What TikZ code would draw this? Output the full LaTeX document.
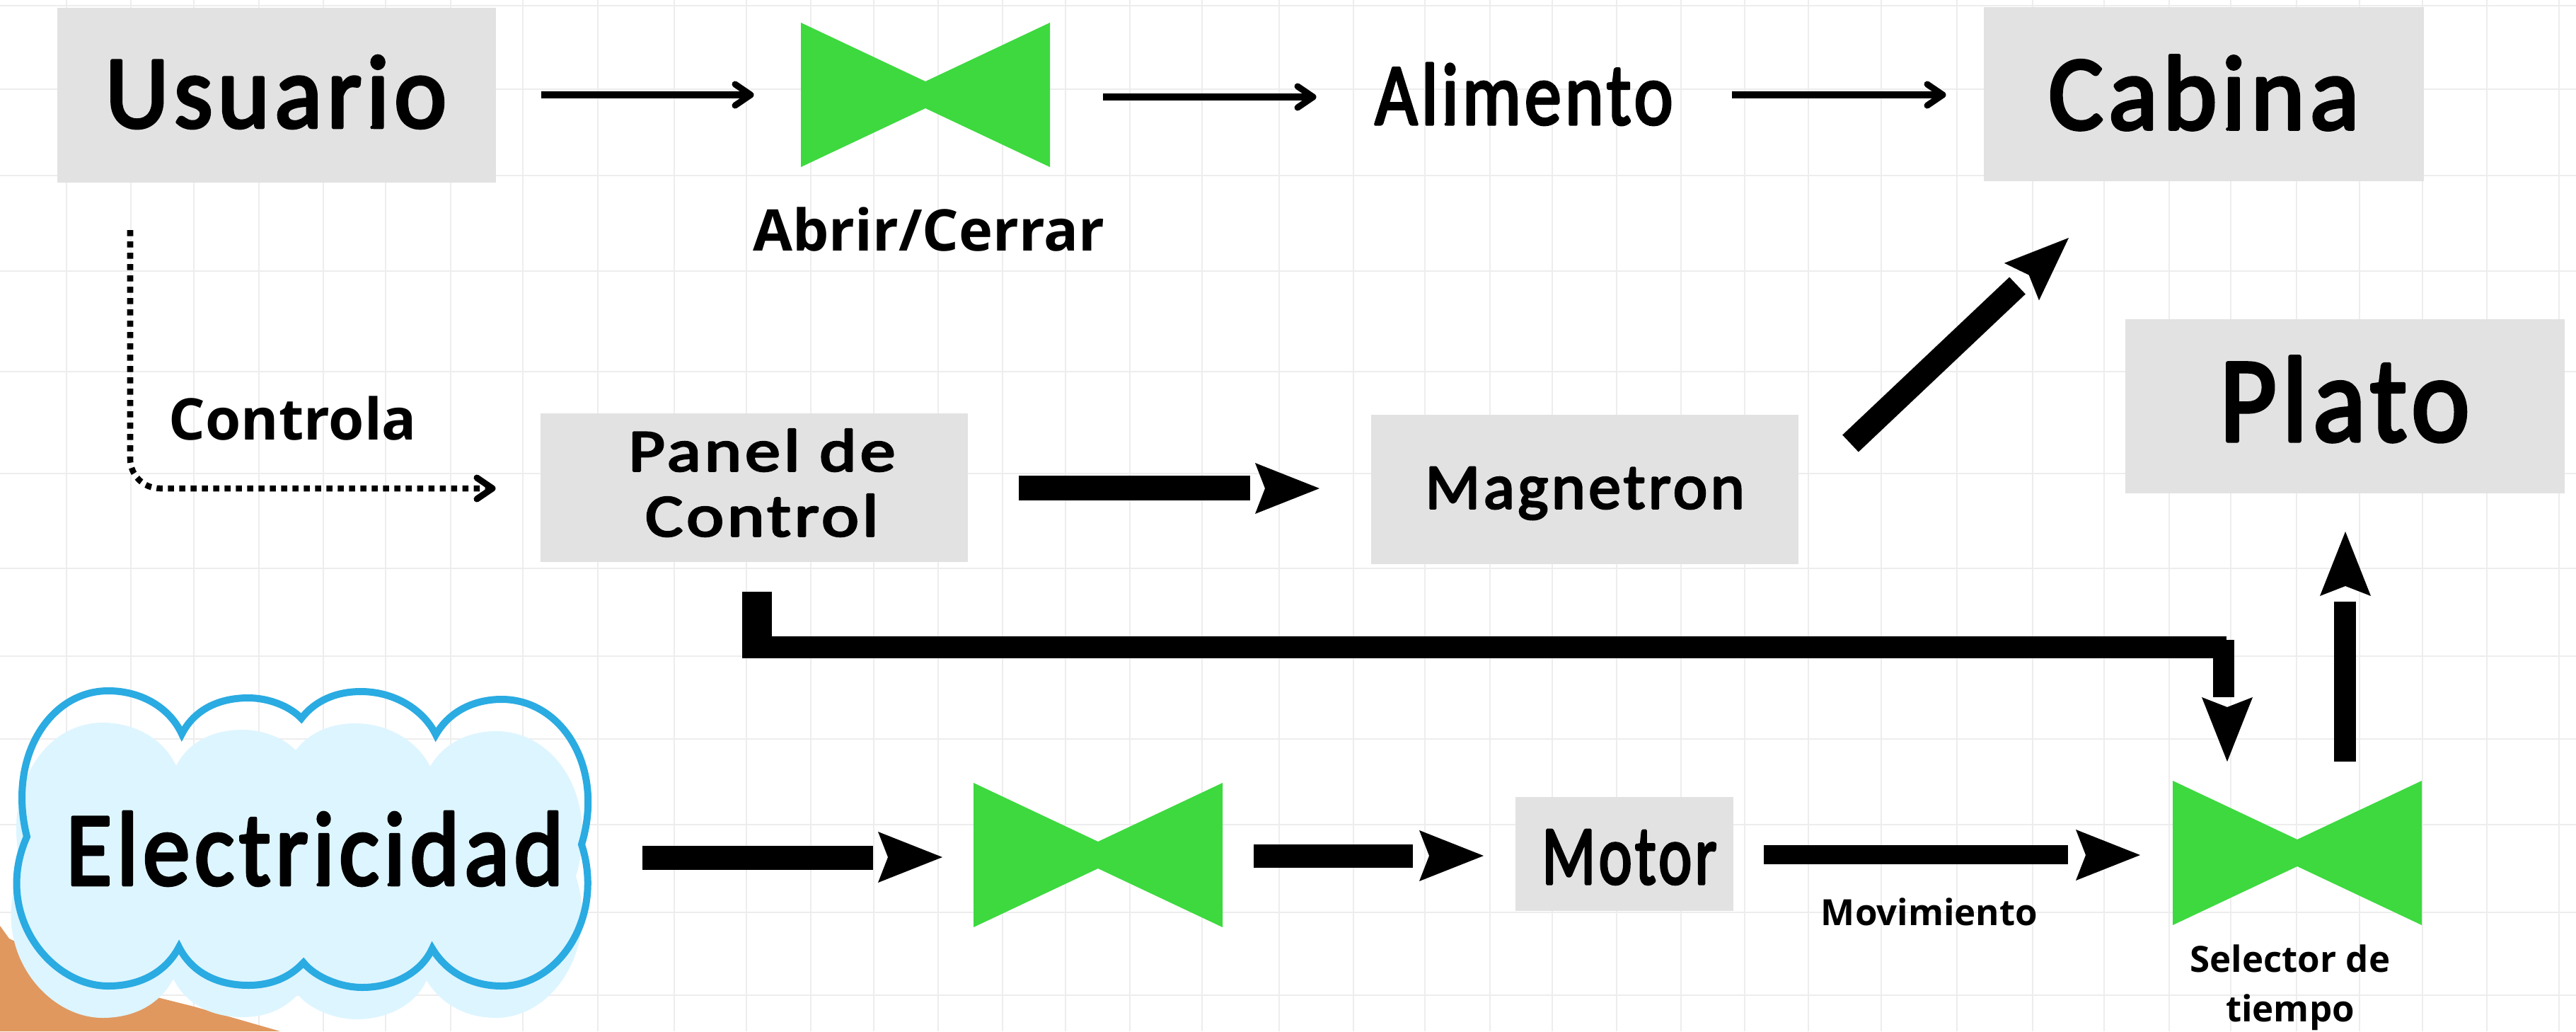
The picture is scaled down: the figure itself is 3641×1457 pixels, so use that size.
\documentclass[tikz,border=0pt]{standalone}
\usepackage{fontspec}
\usepackage{graphicx}
\setmainfont{Open Sans}
\newfontfamily\handfont{Carlito}[FakeBold=3.2,LetterSpace=5]
\definecolor{gridc}{HTML}{EDEDED}
\definecolor{boxc}{HTML}{E2E2E2}
\definecolor{bowc}{HTML}{3DD93F}
\definecolor{cloudl}{HTML}{DDF5FF}
\definecolor{cloudb}{HTML}{2AABE2}
\definecolor{orangec}{HTML}{E0985F}
\newcommand{\hand}[3]{\resizebox*{#1}{#2}{\special{pdf:code 1 j 1 J}\handfont #3}}
\tikzset{
  greybox/.style={rectangle,fill=boxc,draw=none,inner sep=0pt,anchor=north west},
  gridline/.style={draw=gridc,line width=.02cm},
  handtext/.style={inner sep=0pt,text=black},
  boldbig/.style={inner sep=0pt,anchor=base,font=\bfseries\fontsize{23.1}{26}\selectfont},
  boldsmall/.style={inner sep=0pt,anchor=base,font=\bfseries\fontsize{14.5}{18}\selectfont},
  thinline/.style={draw=black,line width=.1cm},
  headshape/.pic={\fill[black] (0,0) -- (-91,36) -- (-77,0) -- (-91,-36) -- cycle;},
  chevron/.pic={\draw[black,line width=.09cm,line cap=round,line join=round] (-26,15) -- (-4,0) -- (-26,-15);},
  bowtie/.pic={\fill[bowc] (-176,-102) -- (0,-19) -- (176,-102) -- (176,102) -- (0,19) -- (-176,102) -- cycle;}
}
\def\cloudpath{(38,1182) .. controls (10,1070) and (70,976) .. (153,976)
  .. controls (200,976) and (240,1000) .. (257,1037)
  .. controls (275,1002) and (310,986) .. (351,986)
  .. controls (380,986) and (410,998) .. (426,1015)
  .. controls (445,990) and (475,977) .. (510,977)
  .. controls (560,977) and (600,1005) .. (616,1038)
  .. controls (635,1005) and (670,988) .. (709,988)
  .. controls (795,988) and (855,1085) .. (822,1193)
  .. controls (855,1295) and (790,1393) .. (709,1393)
  .. controls (665,1393) and (630,1372) .. (611,1340)
  .. controls (595,1375) and (555,1395) .. (512,1395)
  .. controls (480,1395) and (445,1380) .. (429,1360)
  .. controls (410,1380) and (385,1392) .. (351,1392)
  .. controls (305,1392) and (270,1372) .. (253,1338)
  .. controls (235,1372) and (200,1393) .. (153,1393)
  .. controls (70,1393) and (-10,1290) .. (38,1182) -- cycle}
\begin{document}
\begin{tikzpicture}[x=.01cm,y=-.01cm]
\useasboundingbox (0,0) rectangle (3641,1457);
\fill[white] (0,0) rectangle (3641,1457);
% grid
\foreach \gx in {94,185,274,366,457,545,637,739,845,953,1055,1146,1235,1326,1417,1506,1597,1699,1808,1913,2014,2106,2194,2285,2376,2466,2556,2659,2766,2873,2974,3066,3153,3246,3335,3424,3515,3617}
  \draw[gridline] (\gx,0) -- (\gx,1457);
\foreach \gy in {8,126,248,383,525,669,803,927,1044,1165,1289,1406}
  \draw[gridline] (0,\gy) -- (3641,\gy);
% orange corner
\fill[orangec] (0,1308) -- (13,1326) -- (150,1390) -- (230,1411) -- (274,1422) -- (396,1457) -- (0,1457) -- cycle;
% boxes
\node[greybox,minimum width=6.2cm,minimum height=2.47cm] (usuario) at (80,10) {};
\node[greybox,minimum width=6.22cm,minimum height=2.46cm] (cabina) at (2803,9) {};
\node[greybox,minimum width=6.21cm,minimum height=2.46cm] (plato) at (3003,450) {};
\node[greybox,minimum width=6.04cm,minimum height=2.1cm] (panel) at (763,583) {};
\node[greybox,minimum width=6.04cm,minimum height=2.11cm] (magnetron) at (1937,585) {};
\node[greybox,minimum width=3.08cm,minimum height=1.61cm] (motor) at (2141,1125) {};
% cloud
\begin{scope}[shift={(-8,45)}]
\fill[cloudl] \cloudpath;
\end{scope}
\draw[cloudb,line width=.1cm,line join=miter,miter limit=10] \cloudpath;
% handwritten labels
\node[handtext] (tusuario) at (390,130) {\hand{4.82cm}{1.02cm}{Usuario}};
\node[handtext] (talimento) at (2154,133) {\hand{4.21cm}{.87cm}{Alimento}};
\node[handtext] (tcabina) at (3115,131) {\hand{4.39cm}{1.05cm}{Cabina}};
\node[handtext] (tplato) at (3314,564) {\hand{3.53cm}{1.2cm}{Plato}};
\node[handtext] (tpanel) at (1077,691) {\hand{3.77cm}{1.94cm}{\begin{tabular}{@{}c@{}}Panel de\\[-.12em]Control\end{tabular}}};
\node[handtext] (tmagnetron) at (2240,697) {\hand{4.51cm}{.74cm}{Magnetron}};
\node[handtext] (tmotor) at (2303,1211) {\hand{2.47cm}{.77cm}{Motor}};
\node[handtext] (telectricidad) at (445,1199) {\hand{7.03cm}{1.04cm}{Electricidad}};
% bold labels
\node[boldbig] (tabrir) at (1313,354) {Abrir/Cerrar};
\node[boldbig] (tcontrola) at (414,621) {Controla};
\node[boldsmall] (tmov) at (2727,1307) {Movimiento};
\node[boldsmall] (tsel1) at (3237,1373) {Selector de};
\node[boldsmall] (tsel2) at (3237,1443) {tiempo};
% valves
\coordinate (v1) at (1308,134);
\coordinate (v2) at (1552,1208);
\coordinate (v3) at (3247,1205);
\pic (bow1) at (v1) {bowtie};
\pic (bow2) at (v2) {bowtie};
\pic (bow3) at (v3) {bowtie};
% thin arrows
\coordinate (a1s) at (765,134); \coordinate (a1e) at (1065,134);
\coordinate (a2s) at (1559,137); \coordinate (a2e) at (1860,137);
\coordinate (a3s) at (2448,134); \coordinate (a3e) at (2750,134);
\draw[thinline] (a1s) -- ([xshift=-.05cm]a1e);
\pic (c1) at (a1e) {chevron};
\draw[thinline] (a2s) -- ([xshift=-.05cm]a2e);
\pic (c2) at (a2e) {chevron};
\draw[thinline] (a3s) -- ([xshift=-.05cm]a3e);
\pic (c3) at (a3e) {chevron};
% dotted
\coordinate (ds) at (184,325); \coordinate (dc) at (184,690); \coordinate (de) at (700,690);
\draw[black,line width=.085cm,dash pattern=on .085cm off .075cm,rounded corners=.42cm] (ds) -- (dc) -- ([xshift=-.05cm]de);
\pic (c4) at (de) {chevron};
% panel -> magnetron
\coordinate (b1s) at (1440,689.5); \coordinate (b1e) at (1767,689.5); \coordinate (b1t) at (1865,690);
\draw[line width=.35cm] (b1s) -- (b1e);
\pic (h1) at (b1t) {headshape};
% magnetron -> cabina
\coordinate (b2s) at (2615.5,626.5); \coordinate (b2e) at (2851.5,403.5); \coordinate (b2t) at (2924,336);
\draw[line width=.33cm] (b2s) -- (b2e);
\pic[rotate=43] (h2) at (b2t) {headshape};
% panel -> selector
\coordinate (b3a) at (1070,836); \coordinate (b3b) at (1070,930);
\coordinate (b3c) at (1049,914.5); \coordinate (b3d) at (3147,914.5);
\coordinate (b3e) at (3143,904); \coordinate (b3f) at (3143,985); \coordinate (b3t) at (3148,1076);
\draw[line width=.42cm] (b3a) -- (b3b);
\draw[line width=.31cm] (b3c) -- (b3d);
\draw[line width=.30cm] (b3e) -- (b3f);
\pic[rotate=-90] (h3) at (b3t) {headshape};
% selector -> plato
\coordinate (b4s) at (3314.5,1076); \coordinate (b4e) at (3314.5,850); \coordinate (b4t) at (3315,751);
\draw[line width=.31cm] (b4s) -- (b4e);
\pic[rotate=90] (h4) at (b4t) {headshape};
% electricidad -> valve 2
\coordinate (b5s) at (908,1212); \coordinate (b5e) at (1234,1212); \coordinate (b5t) at (1332,1211);
\draw[line width=.34cm] (b5s) -- (b5e);
\pic (h5) at (b5t) {headshape};
% valve 2 -> motor
\coordinate (b6s) at (1772,1209); \coordinate (b6e) at (1997,1209); \coordinate (b6t) at (2097,1209);
\draw[line width=.33cm] (b6s) -- (b6e);
\pic (h6) at (b6t) {headshape};
% motor -> valve 3
\coordinate (b7s) at (2493,1207.5); \coordinate (b7e) at (2923,1207.5); \coordinate (b7t) at (3025,1208);
\draw[line width=.27cm] (b7s) -- (b7e);
\pic (h7) at (b7t) {headshape};
\end{tikzpicture}
\end{document}
